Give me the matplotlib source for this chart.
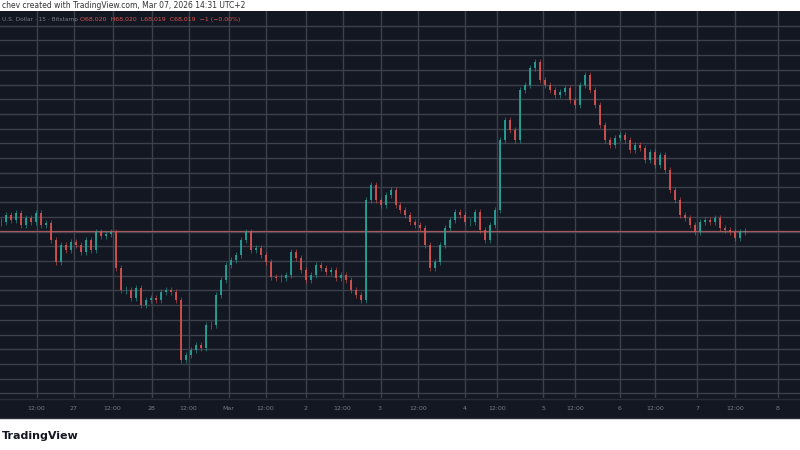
import numpy as np
import matplotlib.pyplot as plt
from matplotlib.patches import Rectangle

# closing prices, 15-min candles sampled ~hourly (USD)
closes = [
    68325, 68563, 68393, 68631, 68223, 68461, 68325, 68631, 68223, 68291,
    67713, 66965, 67543, 67373, 67645, 67543, 67305, 67713, 67373, 67985,
    67849, 67917, 67985, 66761, 66013, 66013, 65741, 66081, 65503, 65673,
    65741, 65673, 65945, 66013, 65945, 65673, 63633, 63803, 63973, 64143,
    64041, 64823, 64823, 65843, 66353, 66863, 67033, 67203, 67713, 67985,
    67373, 67441, 67203, 66965, 66455, 66421, 66421, 66523, 67305, 67101,
    66693, 66353, 66523, 66863, 66761, 66625, 66693, 66421, 66523, 66353,
    66013, 65843, 65673, 69073, 69583, 69073, 68903, 69243, 69413, 68903,
    68733, 68563, 68325, 68223, 68121, 67543, 66761, 66965, 67543, 68121,
    68393, 68665, 68563, 68325, 68325, 68665, 68053, 67713, 68223, 68733,
    71113, 71793, 71453, 71113, 72813, 72983, 73561, 73765, 73153, 72983,
    72813, 72643, 72745, 72881, 72473, 72303, 72983, 73323, 72813, 72303,
    71623, 71113, 70943, 71181, 71283, 71113, 70773, 70943, 70841, 70433,
    70705, 70263, 70603, 70093, 69413, 69073, 68563, 68461, 68223, 67985,
    68325, 68393, 68325, 68461, 68121, 68053, 67985, 67781, 67985, 68019,
]
last_price = 68019
tick_pos = [7.2, 14.6, 22.4, 30.2, 37.6, 45.6, 53.0, 61.0, 68.4, 76.0,
            83.6, 93.0, 99.4, 108.6, 115.0, 124.0, 131.0, 139.4, 147.0, 155.6]
tick_labels = ["12:00", "27", "12:00", "28", "12:00", "Mar", "12:00", "2", "12:00", "3",
               "12:00", "4", "12:00", "5", "12:00", "6", "12:00", "7", "12:00", "8"]

BG = "#131722"
GRID = "#3c404b"
UP = "#26a69a"
DOWN = "#d9534f"
TXT = "#787b86"

fig = plt.figure(figsize=(8, 4.5), dpi=100, facecolor="white")
H = 450.0
bg = Rectangle((0, 1 - 418 / H), 1, 407 / H, transform=fig.transFigure,
               facecolor=BG, edgecolor="none", zorder=-5)
fig.add_artist(bg)

ax = fig.add_axes([0, 1 - 398 / H, 1, 387 / H])
ax.set_zorder(2)
ax.set_facecolor(BG)
for s in ax.spines.values():
    s.set_visible(False)

opens = [closes[0]] + closes[:-1]
for i, (o, c) in enumerate(zip(opens, closes)):
    col = UP if c >= o else DOWN
    lo, hi = min(o, c), max(o, c)
    if hi - lo < 20:
        hi, lo = hi + 15, lo - 15
    ax.vlines(i, lo, hi, color=col, linewidth=1.4, alpha=0.9, zorder=3)
    ax.vlines(i, lo - 110, hi + 110, color=col, linewidth=0.5, alpha=0.8, zorder=3)

ax.set_xlim(-0.2, 160)
ax.set_ylim(62341, 75499)
ax.set_yticks(np.arange(62500, 75500, 500))
ax.set_xticks(tick_pos)
ax.grid(True, color=GRID, linewidth=1.0)
ax.set_axisbelow(True)
ax.tick_params(axis="y", left=False, labelleft=False)
ax.tick_params(axis="x", bottom=False, labelbottom=False)
ax.axhline(last_price, color="#a05a5e", linewidth=0.9, zorder=2)

# time axis band
fig.add_artist(plt.Line2D([0, 1], [1 - 398.5 / H] * 2, color="#2a2e39", linewidth=1))
for p, lab in zip(tick_pos, tick_labels):
    xf = p / 160
    fig.text(xf, 1 - 409 / H, lab, color=TXT, fontsize=4.5, ha="center", va="center")
fig.add_artist(plt.Line2D([0, 1], [1 - 418 / H] * 2, color="#2a2e39", linewidth=1))

fig.text(0.002, 1 - 19 / H, "U.S. Dollar · 15 · Bitstamp", color=TXT, fontsize=4.2,
         va="center", ha="left", zorder=5)
fig.text(0.1, 1 - 19 / H, "O68,020  H68,020  L68,019  C68,019  −1 (−0.00%)",
         color=DOWN, fontsize=4.5, va="center", ha="left", zorder=5)

fig.text(0.002, 1 - 5.5 / H, "chev created with TradingView.com, Mar 07, 2026 14:31 UTC+2",
         color="#333333", fontsize=5.5, va="center", ha="left")
fig.text(0.002, 1 - 436 / H, "TradingView", color="#131722", fontsize=8,
         fontweight="bold", va="center", ha="left")

fig.savefig("out.png", dpi=100, facecolor="white")
